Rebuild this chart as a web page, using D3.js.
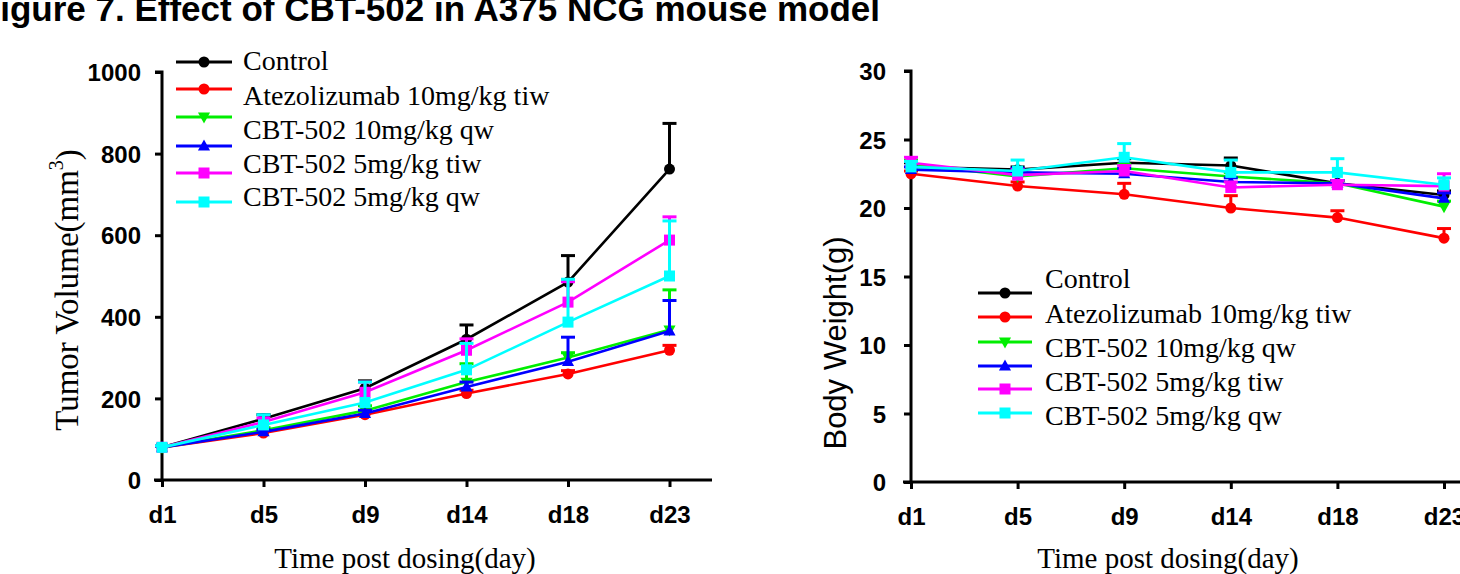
<!DOCTYPE html>
<html>
<head>
<meta charset="utf-8">
<script src="https://cdn.jsdelivr.net/npm/d3@7"></script>
<style>
  html, body { margin: 0; padding: 0; background: #fff; overflow: hidden; }
  svg { display: block; }
</style>
</head>
<body>
<svg id="chart" width="1460" height="574"></svg>
<script>
// ---------------- DATA ----------------
const titleText = "Figure 7. Effect of CBT-502 in A375 NCG mouse model";
const days = ["d1", "d5", "d9", "d14", "d18", "d23"];
const seriesIds = ["control", "atezo", "cbt10qw", "cbt5tiwBlue", "cbt5tiw", "cbt5qw"];
const seriesColors = ["#000000", "#ff0000", "#00ee00", "#0000ff", "#ff00ff", "#00ffff"];
const seriesShapes = ["circle", "circle", "triangleDown", "triangleUp", "square", "square"];
const legendLabels = ["Control", "Atezolizumab 10mg/kg tiw", "CBT-502 10mg/kg qw", "CBT-502 5mg/kg tiw", "CBT-502 5mg/kg qw"];

// Tumor volume (mm3)
const tumorControl = [80, 150, 225, 345, 485, 762];
const tumorAtezo   = [80, 115, 160, 212, 260, 318];
const tumorCbt10qw = [80, 122, 170, 240, 300, 368];
const tumorBlue    = [80, 118, 163, 228, 290, 365];
const tumorCbt5tiw = [80, 142, 215, 318, 436, 588];
const tumorCbt5qw  = [80, 135, 190, 270, 387, 500];
const tumorErrControl = [4, 10, 18, 35, 65, 112];
const tumorErrAtezo   = [3, 5, 6, 8, 8, 12];
const tumorErrCbt10qw = [3, 6, 12, 45, 12, 98];
const tumorErrBlue    = [3, 5, 8, 12, 60, 75];
const tumorErrCbt5tiw = [4, 10, 25, 28, 50, 57];
const tumorErrCbt5qw  = [4, 25, 50, 65, 105, 135];
const tumorTicks = [0, 200, 400, 600, 800, 1000];

// Body weight (g)
const weightControl = [23.0, 22.8, 23.3, 23.1, 21.8, 20.95];
const weightAtezo   = [22.5, 21.6, 21.0, 20.0, 19.3, 17.8];
const weightCbt10qw = [23.2, 22.3, 22.9, 22.3, 21.8, 20.1];
const weightBlue    = [22.8, 22.6, 22.5, 21.9, 21.8, 20.7];
const weightCbt5tiw = [23.3, 22.4, 22.7, 21.5, 21.7, 21.6];
const weightCbt5qw  = [23.0, 22.7, 23.7, 22.6, 22.6, 21.7];
const weightErrControl = [0.3, 0.2, 0.3, 0.55, 0.2, 0.3];
const weightErrAtezo   = [0.2, 0.3, 0.8, 0.9, 0.5, 0.7];
const weightErrCbt10qw = [0.3, 0.3, 0.3, 0.3, 0.2, 0.4];
const weightErrBlue    = [0.2, 0.3, 0.4, 0.3, 0.2, 0.4];
const weightErrCbt5tiw = [0.4, 0.4, 0.4, 0.4, 0.3, 0.9];
const weightErrCbt5qw  = [0.4, 0.8, 1.0, 0.9, 1.0, 0.5];
const weightTicks = [0, 5, 10, 15, 20, 25, 30];

// ---------------- DRAWING ----------------
const svg = d3.select("#chart");
const serif = "'Liberation Serif', 'Times New Roman', serif";
const sans = "'Liberation Sans', Arial, sans-serif";

function buildSeries(values, errors) {
  return seriesIds.map((id, i) => ({
    id, color: seriesColors[i], shape: seriesShapes[i],
    points: days.map((d, j) => ({ day: d, v: values[i][j], e: errors[i][j] }))
  }));
}

function marker(g, shape, x, y, color, s) {
  if (shape === "circle") {
    g.append("circle").attr("cx", x).attr("cy", y).attr("r", s).attr("fill", color);
  } else if (shape === "square") {
    g.append("rect").attr("x", x - s).attr("y", y - s).attr("width", 2 * s).attr("height", 2 * s).attr("fill", color);
  } else if (shape === "triangleUp") {
    g.append("path").attr("d", `M${x},${y - s * 1.2}L${x + s * 1.1},${y + s * 0.8}L${x - s * 1.1},${y + s * 0.8}Z`).attr("fill", color);
  } else {
    g.append("path").attr("d", `M${x},${y + s * 1.2}L${x + s * 1.1},${y - s * 0.8}L${x - s * 1.1},${y - s * 0.8}Z`).attr("fill", color);
  }
}

function drawPanel(cfg) {
  const g = svg.append("g");
  const x = d3.scalePoint().domain(days).range([cfg.x0, cfg.x1]);
  const y = d3.scaleLinear().domain(cfg.yDomain).range([cfg.yBottom, cfg.yTop]);

  // y axis
  const ya = g.append("g").attr("transform", `translate(${cfg.x0},0)`)
    .call(d3.axisLeft(y).tickValues(cfg.ticks).tickFormat(d3.format("d"))
      .tickSize(7).tickPadding(cfg.yPad).tickSizeOuter(0));
  ya.select(".domain").attr("stroke-width", 3).attr("d", `M-7,${cfg.yTop}H0V${cfg.yBottom}`);
  ya.selectAll(".tick line").attr("stroke-width", 3);
  ya.selectAll(".tick text").attr("font-family", sans).attr("font-weight", "bold")
    .attr("font-size", 24).attr("fill", "#000").attr("dy", "0.36em");

  // x axis
  const xa = g.append("g").attr("transform", `translate(0,${cfg.yBottom})`)
    .call(d3.axisBottom(x).tickSize(7).tickPadding(19).tickSizeOuter(0));
  xa.select(".domain").attr("stroke-width", 3).attr("d", `M${cfg.x0 - 8},0H${cfg.xEnd}`);
  xa.selectAll(".tick line").attr("stroke-width", 3);
  xa.selectAll(".tick text").attr("font-family", sans).attr("font-weight", "bold")
    .attr("font-size", 24).attr("fill", "#000");

  const series = buildSeries(cfg.values, cfg.errors);
  const line = d3.line().x(p => x(p.day)).y(p => y(p.v));
  series.forEach(s => {
    const sg = g.append("g");
    // upper error bars
    s.points.forEach(p => {
      const cx = x(p.day), cy = y(p.v), ey = y(p.v + p.e);
      sg.append("line").attr("x1", cx).attr("x2", cx).attr("y1", cy).attr("y2", ey)
        .attr("stroke", s.color).attr("stroke-width", 3);
      sg.append("line").attr("x1", cx - 7).attr("x2", cx + 7).attr("y1", ey).attr("y2", ey)
        .attr("stroke", s.color).attr("stroke-width", 3);
    });
    sg.append("path").attr("d", line(s.points)).attr("fill", "none")
      .attr("stroke", s.color).attr("stroke-width", 2.6);
    s.points.forEach(p => marker(sg, s.shape, x(p.day), y(p.v), s.color, 5.5));
  });

  // legend symbols
  const lg = g.append("g");
  seriesIds.forEach((id, i) => {
    const ly = cfg.legSymY[i];
    lg.append("line").attr("x1", cfg.legX0).attr("x2", cfg.legX1).attr("y1", ly).attr("y2", ly)
      .attr("stroke", seriesColors[i]).attr("stroke-width", 3);
    marker(lg, seriesShapes[i], (cfg.legX0 + cfg.legX1) / 2, ly, seriesColors[i], 5.5);
  });
  legendLabels.forEach((t, i) => {
    lg.append("text").attr("x", cfg.legTextX).attr("y", cfg.legTextY[i]).attr("dy", "0.35em")
      .attr("font-family", serif).attr("font-size", 28).attr("fill", "#000").text(t);
  });

  // x title
  g.append("text").attr("x", cfg.xTitleX).attr("y", 568).attr("text-anchor", "middle")
    .attr("font-family", serif).attr("font-size", 29).attr("fill", "#000").text("Time post dosing(day)");
  return g;
}

const leftValues = [tumorControl, tumorAtezo, tumorCbt10qw, tumorBlue, tumorCbt5tiw, tumorCbt5qw];
const leftErrors = [tumorErrControl, tumorErrAtezo, tumorErrCbt10qw, tumorErrBlue, tumorErrCbt5tiw, tumorErrCbt5qw];
const rightValues = [weightControl, weightAtezo, weightCbt10qw, weightBlue, weightCbt5tiw, weightCbt5qw];
const rightErrors = [weightErrControl, weightErrAtezo, weightErrCbt10qw, weightErrBlue, weightErrCbt5tiw, weightErrCbt5qw];

drawPanel({
  x0: 162, x1: 669.5, xEnd: 712, yTop: 72, yBottom: 480, yDomain: [0, 1000], ticks: tumorTicks, yPad: 14,
  values: leftValues, errors: leftErrors,
  legX0: 176, legX1: 232, legTextX: 243,
  legSymY: [62, 89, 117, 146, 173, 202], legTextY: [60, 95, 129, 163, 196],
  xTitleX: 405
});

drawPanel({
  x0: 911, x1: 1444, xEnd: 1490, yTop: 71, yBottom: 482, yDomain: [0, 30], ticks: weightTicks, yPad: 18,
  values: rightValues, errors: rightErrors,
  legX0: 978, legX1: 1032, legTextX: 1045,
  legSymY: [293, 317, 342, 366, 389, 413], legTextY: [278, 313, 347, 381, 415],
  xTitleX: 1168
});

// y titles
const tv = svg.append("text").attr("transform", "translate(78,290) rotate(-90)").attr("text-anchor", "middle")
  .attr("font-family", serif).attr("font-size", 33).attr("fill", "#000");
tv.append("tspan").text("Tumor Volume(mm");
tv.append("tspan").attr("font-size", 20).attr("dy", "-0.75em").text("3");
tv.append("tspan").attr("dy", "0.48em").text(")");

svg.append("text").attr("transform", "translate(846,343) rotate(-90)").attr("text-anchor", "middle")
  .attr("font-family", sans).attr("font-size", 31).attr("fill", "#000").text("Body Weight(g)");

// title, clipped at the top like the source figure
svg.append("text").attr("x", 880).attr("y", 21).attr("text-anchor", "end")
  .attr("font-family", sans).attr("font-weight", "bold").attr("font-size", 35).attr("fill", "#000").text(titleText);
</script>
</body>
</html>
